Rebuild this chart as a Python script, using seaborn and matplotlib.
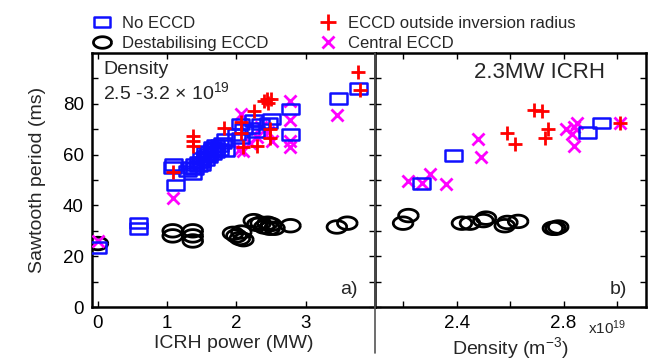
import numpy as np
import matplotlib
matplotlib.use("Agg")
import matplotlib.pyplot as plt
from matplotlib.path import Path
from matplotlib.lines import Line2D
import seaborn as sns

# ---------------- data ----------------
# Panel a: ICRH power (MW) vs sawtooth period (ms)
noeccd_a_p = [0.0, 0.58, 0.58, 1.08, 1.12, 1.09, 1.37, 1.30, 1.35, 1.40, 1.45, 1.50, 1.50, 1.55,
              1.60, 1.60, 1.65, 1.70, 1.70, 1.75, 1.80, 1.84, 1.84, 2.00, 2.06, 2.06, 2.10,
              2.20, 2.28, 2.25, 2.35, 2.46, 2.50, 2.78, 2.78, 3.47, 3.76,
              1.40, 1.45, 1.50, 1.55, 1.60, 1.65, 1.70, 1.75, 1.55, 1.65]
noeccd_a_t = [23.5, 33.0, 31.0, 55.0, 48.0, 56.0, 52.5, 53.5, 55.0, 56.0, 57.0, 58.5, 57.0, 59.5,
              60.0, 61.5, 62.0, 62.5, 61.0, 63.5, 64.5, 66.0, 61.5, 68.0, 66.5, 72.0, 70.0,
              70.5, 69.0, 73.5, 72.0, 72.5, 74.0, 78.0, 68.0, 82.0, 86.0,
              54.5, 55.5, 56.0, 58.0, 59.0, 60.5, 63.5, 62.0, 61.0, 63.0]

outside_a_p = [1.08, 1.37, 1.37, 1.37, 1.82, 2.06, 2.06, 2.10, 2.25, 2.30, 2.40, 2.44, 2.46,
               2.50, 2.49, 2.49, 3.76, 3.78]
outside_a_t = [53.0, 63.5, 65.5, 67.5, 70.5, 73.0, 68.5, 63.0, 77.0, 63.5, 81.0, 82.0, 80.5,
               82.0, 70.0, 66.5, 92.5, 85.5]

central_a_p = [0.0, 1.08, 2.03, 2.06, 2.10, 2.20, 2.30, 2.35, 2.45, 2.52, 2.78, 2.78, 2.78,
               2.78, 3.45]
central_a_t = [26.0, 43.0, 62.0, 76.0, 61.5, 64.5, 67.0, 71.0, 69.0, 65.5, 81.0, 73.5, 65.5,
               63.0, 75.5]

destab_a_p = [0.0, 1.08, 1.08, 1.37, 1.37, 1.37, 1.95, 2.00, 2.05, 2.10, 2.07, 2.25, 2.30,
              2.35, 2.40, 2.45, 2.50, 2.55, 2.48, 2.78, 3.45, 3.60]
destab_a_t = [25.0, 30.0, 28.0, 30.0, 28.0, 26.0, 29.0, 28.0, 27.0, 26.5, 29.5, 34.0, 32.5,
              33.0, 31.5, 33.0, 32.5, 31.0, 31.0, 32.0, 31.5, 33.0]

# Panel b: density (1e19 m^-3) vs sawtooth period (ms), 2.3MW ICRH
noeccd_b_n = [2.27, 2.39, 2.89, 2.94]
noeccd_b_t = [48.6, 59.6, 68.6, 72.5]
outside_b_n = [2.59, 2.62, 2.69, 2.72, 2.74, 2.73, 3.01]
outside_b_t = [68.6, 64.0, 77.6, 77.0, 70.0, 66.7, 72.5]
central_b_n = [2.22, 2.27, 2.30, 2.36, 2.48, 2.49, 2.81, 2.83, 2.85, 2.84, 2.84, 3.01]
central_b_t = [49.8, 49.0, 52.5, 48.6, 66.0, 59.0, 70.0, 68.0, 72.5, 71.0, 63.5, 72.5]
destab_b_n = [2.20, 2.22, 2.42, 2.45, 2.50, 2.51, 2.58, 2.59, 2.63, 2.76, 2.77, 2.78]
destab_b_t = [33.0, 36.0, 33.0, 33.0, 34.0, 35.0, 32.0, 33.3, 33.7, 31.0, 31.0, 31.5]

labels = ["No ECCD", "Destabilising ECCD", "ECCD outside inversion radius", "Central ECCD"]
yticks = [0, 20, 40, 60, 80]

# ---------------- style ----------------
sns.set_theme(style="ticks")
plt.rcParams["font.family"] = ["Liberation Sans", "DejaVu Sans"]
plt.rcParams["mathtext.fontset"] = "custom"
plt.rcParams["mathtext.rm"] = "Liberation Sans"
plt.rcParams["mathtext.it"] = "Liberation Sans"

rect = Path([(-1, -0.62), (1, -0.62), (1, 0.62), (-1, 0.62), (-1, -0.62)],
            [Path.MOVETO, Path.LINETO, Path.LINETO, Path.LINETO, Path.CLOSEPOLY])
th = np.linspace(0, 2 * np.pi, 60)
ell = Path(np.column_stack([np.cos(th), 0.64 * np.sin(th)]))

BLUE = "#1010ff"
RED = "#ff0000"
MAG = "#ff00ff"

fig = plt.figure(figsize=(6.54, 3.6), dpi=100)
ax_a = fig.add_axes([92 / 654, 1 - 307 / 360, (375 - 92) / 654, 254 / 360])
ax_b = fig.add_axes([375 / 654, 1 - 307 / 360, (646 - 375) / 654, 254 / 360])


def draw(ax, d_x, d_y, c_x, c_y, n_x, n_y, o_x, o_y):
    sns.scatterplot(x=d_x, y=d_y, ax=ax, marker=ell, s=200, facecolors="none",
                    edgecolor="black", color="black", linewidth=2.0, zorder=3)
    sns.scatterplot(x=c_x, y=c_y, ax=ax, marker="x", s=75, color=MAG,
                    linewidth=2.0, zorder=4)
    sns.scatterplot(x=n_x, y=n_y, ax=ax, marker=rect, s=150, facecolors="none",
                    edgecolor=BLUE, color=BLUE, linewidth=1.8, zorder=5)
    sns.scatterplot(x=o_x, y=o_y, ax=ax, marker="+", s=115, color=RED,
                    linewidth=2.0, zorder=6)


draw(ax_a, destab_a_p, destab_a_t, central_a_p, central_a_t,
     noeccd_a_p, noeccd_a_t, outside_a_p, outside_a_t)
draw(ax_b, destab_b_n, destab_b_t, central_b_n, central_b_t,
     noeccd_b_n, noeccd_b_t, outside_b_n, outside_b_t)

for ax in (ax_a, ax_b):
    ax.set_ylim(0, 100)
    ax.set_yticks(yticks)
    ax.set_yticks([10, 30, 50, 70, 90], minor=True)
    ax.tick_params(axis="both", which="both", direction="in", top=True, right=True,
                   length=4, width=1.0, labelsize=13.5, colors="black", pad=6)
    for sp in ax.spines.values():
        sp.set_linewidth(1.8)
        sp.set_color("black")
        sp.set_visible(True)
    ax.set_facecolor("white")

ax_a.set_xlim(-0.085, 4.0)
ax_a.set_xticks([0, 1, 2, 3])
ax_a.set_yticklabels([str(v) for v in yticks])
ax_a.set_xlabel("ICRH power (MW)", fontsize=14, labelpad=2)
ax_a.set_ylabel("Sawtooth period (ms)", fontsize=14, labelpad=12)

ax_b.set_xlim(2.095, 3.108)
ax_b.set_xticks([2.4, 2.8])
ax_b.set_xticks([2.2, 2.6, 3.0], minor=True)
ax_b.set_xticklabels(["2.4", "2.8"])
ax_b.tick_params(axis="y", labelleft=False)
ax_b.set_xlabel("Density (m$^{-3}$)", fontsize=14, labelpad=2)
ax_b.set_ylabel("")

ax_a.text(0.04, 0.935, "Density", transform=ax_a.transAxes, fontsize=14,
          ha="left", va="center")
ax_a.text(0.04, 0.845, r"2.5 -3.2 $\times$ 10$^{19}$", transform=ax_a.transAxes,
          fontsize=14, ha="left", va="center")
ax_b.text(0.365, 0.925, "2.3MW ICRH", transform=ax_b.transAxes, fontsize=16,
          ha="left", va="center")
ax_a.text(0.94, 0.07, "a)", transform=ax_a.transAxes, fontsize=14,
          ha="right", va="center")
ax_b.text(0.93, 0.07, "b)", transform=ax_b.transAxes, fontsize=14,
          ha="right", va="center")
fig.text(588 / 654, 1 - 328 / 360, r"x10$^{19}$", fontsize=11, ha="left", va="center")

# divider line running below the axes
fig.add_artist(Line2D([375 / 654, 375 / 654], [1 - 353 / 360, 1 - 53 / 360],
                      transform=fig.transFigure, color="#555555", linewidth=1.2))

handles = [
    Line2D([], [], ls="none", marker=rect, markersize=11, mfc="none", mec=BLUE, mew=1.8),
    Line2D([], [], ls="none", marker=ell, markersize=13, mfc="none", mec="black", mew=2.0),
    Line2D([], [], ls="none", marker="+", markersize=11, color=RED, mew=2.0),
    Line2D([], [], ls="none", marker="x", markersize=8, color=MAG, mew=2.0),
]
fig.legend(handles, labels, ncol=2, loc="upper left",
           bbox_to_anchor=(85 / 654, 1 - 9 / 360), frameon=False, fontsize=12,
           handletextpad=0.6, columnspacing=3.0, labelspacing=0.3, handlelength=1.2,
           borderaxespad=0)

fig.savefig("out.png", dpi=100, facecolor="white")
